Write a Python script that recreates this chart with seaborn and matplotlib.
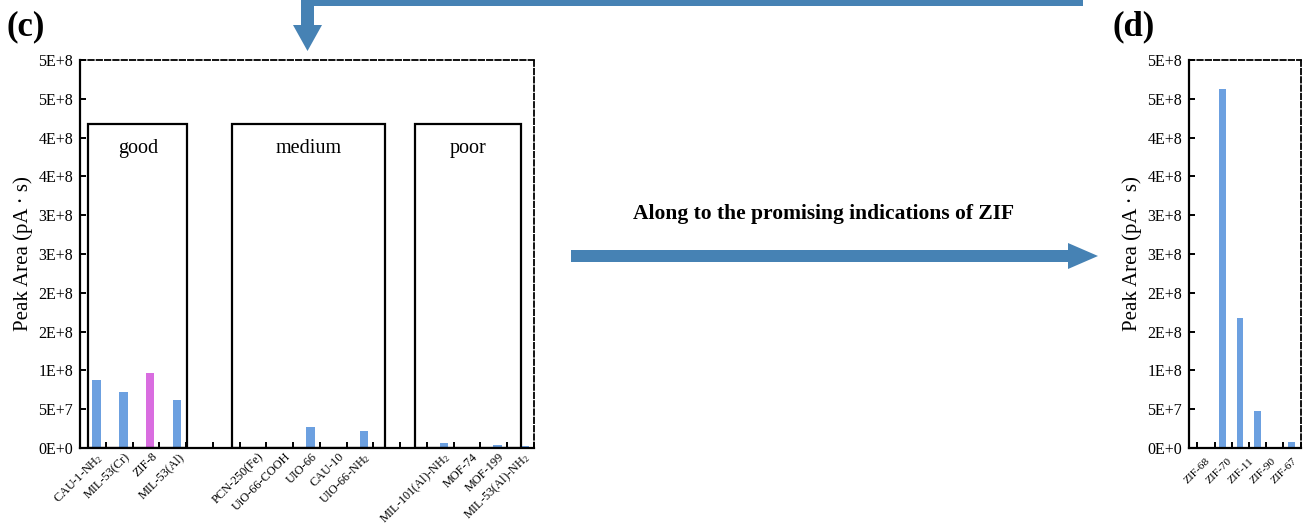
import numpy as np
import pandas as pd
import matplotlib
matplotlib.use("Agg")
import matplotlib.pyplot as plt
from matplotlib.patches import Rectangle, Polygon
from matplotlib.ticker import FuncFormatter
import seaborn as sns

# ---------------- data ----------------
# (c) screening of MOFs, peak area in pA*s
good_mofs = ["CAU-1-NH$_2$", "MIL-53(Cr)", "ZIF-8", "MIL-53(Al)"]
good_area = [8.7e7, 7.2e7, 9.7e7, 6.2e7]
medium_mofs = ["PCN-250(Fe)", "UiO-66-COOH", "UIO-66", "CAU-10", "UIO-66-NH$_2$"]
medium_area = [0.0, 0.0, 2.65e7, 0.0, 2.25e7]
poor_mofs = ["MIL-101(Al)-NH$_2$", "MOF-74", "MOF-199", "MIL-53(Al)-NH$_2$"]
poor_area = [0.6e7, 0.0, 0.45e7, 0.3e7]
group_names = ["good", "medium", "poor"]

# (d) ZIF family
zif_names = ["ZIF-68", "ZIF-70", "ZIF-11", "ZIF-90", "ZIF-67"]
zif_area = [0.0, 4.63e8, 1.68e8, 4.8e7, 0.72e7]

# ---------------- style ----------------
sns.set_style("white")
plt.rcParams["font.family"] = ["Liberation Serif", "DejaVu Serif"]
plt.rcParams["mathtext.fontset"] = "custom"
plt.rcParams["mathtext.rm"] = "Liberation Serif"
plt.rcParams["mathtext.it"] = "Liberation Serif:italic"
for key in ("text.color", "axes.labelcolor", "xtick.color", "ytick.color"):
    plt.rcParams[key] = "black"

BLUE = "#6CA0E0"
MAGENTA = "#D96DE0"
ARROW = "#4682B4"

W, H = 1303, 527
fig = plt.figure(figsize=(W / 100, H / 100), dpi=100)
fig.patch.set_facecolor("white")


def sci_label(v, pos):
    if v <= 0:
        return "0E+0"
    e = int(np.floor(np.log10(v) + 1e-9))
    m = int(np.floor(v / 10 ** e + 0.5))
    if m == 10:
        m, e = 1, e + 1
    return f"{m}E+{e}"


def style_axis(ax):
    ax.set_ylim(0, 5e8)
    ax.set_yticks(np.arange(0, 5e8 + 1, 5e7))
    ax.yaxis.set_major_formatter(FuncFormatter(sci_label))
    ax.tick_params(axis="both", which="major", direction="in", length=4,
                   width=1.4, color="black", left=True, bottom=True)
    ax.tick_params(axis="y", labelsize=11.5, pad=5)
    for side in ("left", "bottom"):
        ax.spines[side].set_linewidth(1.6)
        ax.spines[side].set_color("black")
    for side in ("top", "right"):
        ax.spines[side].set_linewidth(1.3)
        ax.spines[side].set_linestyle((0, (3, 1.6)))
        ax.spines[side].set_color("black")
    ax.set_ylabel("Peak Area (pA · s)", fontsize=15, labelpad=4)
    ax.set_xlabel("")
    ax.grid(False)


# ---------------- (c) ----------------
axc = fig.add_axes([80 / W, 1 - 448 / H, (534 - 80) / W, (448 - 60) / H])
mofs = good_mofs + medium_mofs + poor_mofs
df_c = pd.DataFrame({"material": mofs,
                     "area": good_area + medium_area + poor_area})
# two empty slots separate the groups on the category axis
c_slots = good_mofs + ["", " "] + medium_mofs + ["  ", "   "] + poor_mofs
c_palette = {m: (MAGENTA if m == "ZIF-8" else BLUE) for m in mofs}
sns.barplot(data=df_c, x="material", y="area", order=c_slots, hue="material",
            palette=c_palette, width=0.32, saturation=1, legend=False,
            edgecolor="none", ax=axc)
style_axis(axc)
axc.set_xticks(np.arange(len(c_slots)) + 0.35)
axc.set_xticklabels(c_slots, rotation=45, ha="right", fontsize=8.8)
axc.tick_params(axis="x", pad=2)
axc.set_xlim(-0.62, 16.36)

# group frames
box_top = 4.17e8
box_spans = [(-0.31, 3.39), (5.05, 10.79), (11.91, 15.88)]
for name, (x0, x1) in zip(group_names, box_spans):
    axc.add_patch(Rectangle((x0, 0), x1 - x0, box_top, fill=False,
                            edgecolor="black", linewidth=1.6, zorder=3))
    axc.text((x0 + x1) / 2, 3.86e8, name, ha="center", va="center",
             fontsize=14.5)

# ---------------- (d) ----------------
axd = fig.add_axes([1189 / W, 1 - 448 / H, (1300.7 - 1189) / W, (448 - 60) / H])
df_d = pd.DataFrame({"material": zif_names, "area": zif_area})
d_slots = zif_names[:4] + [" "] + zif_names[4:]
sns.barplot(data=df_d, x="material", y="area", order=d_slots, color=BLUE,
            width=0.4, saturation=1, edgecolor="none", ax=axd)
style_axis(axd)
axd.set_xlim(-0.96, 5.42)
axd.set_xticks(np.arange(-1, len(d_slots)) + 0.52)
axd.set_xticklabels([])
axd.set_xticks(np.linspace(0.36, 5.42, len(zif_names)), zif_names, minor=True)
axd.tick_params(axis="x", which="minor", length=0, labelsize=8.2, pad=6,
                labelrotation=45)
for lbl in axd.get_xticklabels(minor=True):
    lbl.set_ha("right")

# ---------------- arrows and panel letters ----------------
ov = fig.add_axes([0, 0, 1, 1], zorder=5)
ov.set_xlim(0, W)
ov.set_ylim(H, 0)
ov.axis("off")

# horizontal arrow between the panels
ov.add_patch(Polygon([(571, 250), (1068, 250), (1068, 243), (1098, 256),
                      (1068, 269), (1068, 262), (571, 262)],
                     closed=True, facecolor=ARROW, edgecolor="none"))
# elbow arrow entering (c) from the top
ov.add_patch(Polygon([(1083, -10), (1083, 6), (314, 6), (314, 25),
                      (322, 25), (307.5, 51), (293, 25), (301, 25),
                      (301, -10)],
                     closed=True, facecolor=ARROW, edgecolor="none"))

ov.text(824, 214, "Along to the promising indications of ZIF", ha="center",
        va="center", fontsize=15.5, fontweight="bold")
ov.text(7, 27, "(c)", ha="left", va="center", fontsize=25, fontweight="bold")
ov.text(1113, 27, "(d)", ha="left", va="center", fontsize=25,
        fontweight="bold")

fig.savefig("out.png", dpi=100, facecolor="white")
